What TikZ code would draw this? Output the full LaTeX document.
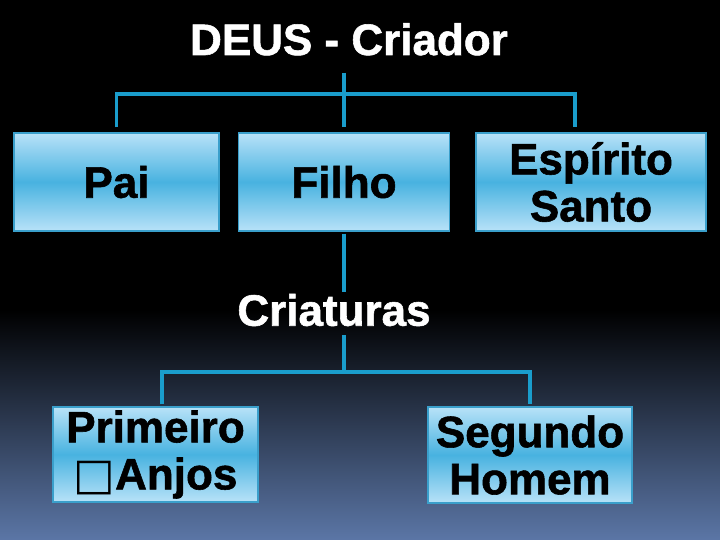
\documentclass[tikz,border=0pt]{standalone}
\usepackage{fontspec}
\setmainfont{Liberation Sans}[BoldFeatures={FakeBold=1.3}]
\newfontfamily\glyphfont{DejaVu Sans}
\usetikzlibrary{positioning,calc}
\definecolor{night}{HTML}{000000}
\definecolor{dusk}{HTML}{5B76A6}
\definecolor{wire}{HTML}{1A9DCC}
\definecolor{boxline}{HTML}{3A9FCB}
\definecolor{boxlight}{HTML}{B8E2F8}
\definecolor{boxmid}{HTML}{48B2E0}

\begin{document}
\begin{tikzpicture}[x=1pt, y=-1pt,
  font=\bfseries\fontsize{44}{47}\selectfont,
  title/.style={text=white, inner sep=0pt},
  member/.style={draw=boxline, line width=1.2pt, top color=boxlight, bottom color=boxlight,
    middle color=boxmid, text=black, align=center, inner sep=0pt},
  link/.style={draw=wire, line width=3.5pt}
]

% ---------- Fundo ----------
\useasboundingbox (0,0) rectangle (720,540);
\fill[night] (0,0) rectangle (720,310);
\shade[top color=night, bottom color=dusk] (0,310) rectangle (720,540);

% ---------- Criador ----------
\node[title, anchor=base] (deus) at (349,55) {DEUS - Criador};
\node[member, minimum width=205pt, minimum height=98pt] (pai) at (116.5,182) {Pai};
\node[member, minimum width=211pt, minimum height=98pt] (filho) at (344,182) {Filho};
\node[member, minimum width=230pt, minimum height=98pt] (espirito) at (591,182) {Espírito\\Santo};
\coordinate (bar) at (344,94);

\draw[link, shorten <=17pt, shorten >=5pt] (deus.south -| filho.north) -- (filho.north);
\draw[link, shorten <=5pt, shorten >=5pt] (pai.north) |- (bar) -| ([xshift=-16pt]espirito.north);

% ---------- Criaturas ----------
\node[title, inner sep=2pt] (criaturas) at (334,310) {Criaturas};
\node[member, minimum width=205pt, minimum height=95pt] (primeiro) at (155.5,454.5) {Primeiro\\{\glyphfont □}Anjos};
\node[member, minimum width=204pt, minimum height=96pt] (segundo) at (530,455) {Segundo\\Homem};
\coordinate (bar2) at (344,372);

\draw[link, shorten <=2pt] (filho.south) -- (filho.south |- criaturas.north);
\draw[link, shorten <=7pt] (criaturas.south -| filho.south) -- (bar2);
\draw[link, shorten <=2pt, shorten >=2pt] ([xshift=6.5pt]primeiro.north) |- (bar2) -| (segundo.north);

\end{tikzpicture}
\end{document}
